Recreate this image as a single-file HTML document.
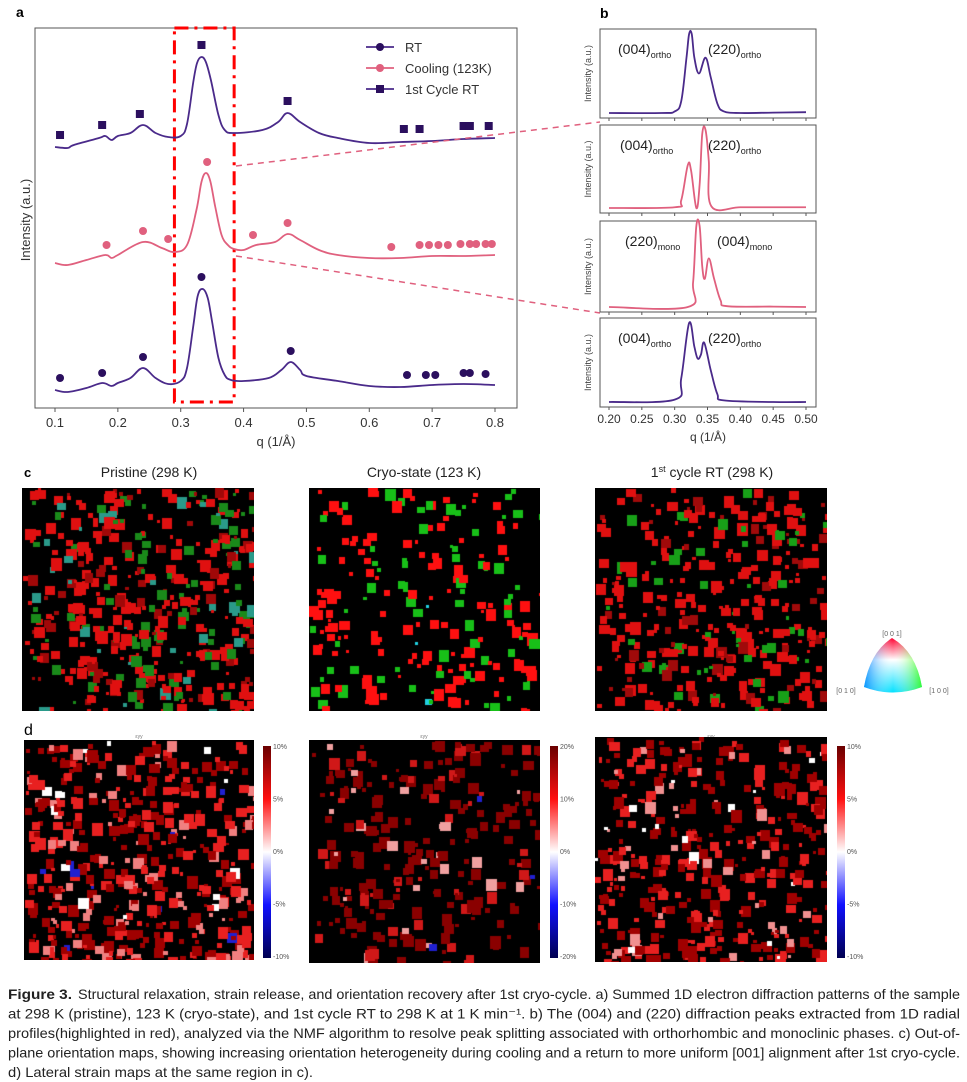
<!DOCTYPE html>
<html><head><meta charset="utf-8">
<style>
body{margin:0;background:#fff;width:967px;height:1082px;overflow:hidden;position:relative;font-family:"Liberation Sans",sans-serif}
.abs{position:absolute}
canvas{position:absolute;display:block}
</style></head>
<body>
<svg id="main" class="abs" style="left:0;top:0" width="967" height="1082"></svg>
<canvas id="c1" style="left:22px;top:488px" width="232" height="223"></canvas>
<canvas id="c2" style="left:309px;top:488px" width="231" height="223"></canvas>
<canvas id="c3" style="left:595px;top:488px" width="232" height="223"></canvas>
<canvas id="d1" style="left:24px;top:740px" width="230" height="220"></canvas>
<canvas id="d2" style="left:309px;top:740px" width="231" height="223"></canvas>
<canvas id="d3" style="left:595px;top:737px" width="232" height="225"></canvas>
<script>
// ---------- Panel a data ----------
const qRT=[0.1,0.12,0.15,0.175,0.19,0.2,0.22,0.24,0.26,0.28,0.3,0.31,0.32,0.327,0.335,0.343,0.35,0.36,0.37,0.38,0.4,0.44,0.46,0.475,0.49,0.5,0.55,0.6,0.65,0.7,0.75,0.8];
const iRT=[2,0,4,9,6,9,14,24,14,8,11,24,66,96,103,94,70,34,17,12,11,14,22,30,22,16,11,6,5,7,8,7];
const qCool=[0.1,0.12,0.15,0.18,0.19,0.2,0.24,0.27,0.29,0.31,0.325,0.333,0.34,0.347,0.355,0.365,0.375,0.385,0.4,0.42,0.45,0.47,0.49,0.52,0.55,0.6,0.65,0.7,0.75,0.8];
const iCool=[2,0,5,10,7,10,23,17,13,20,55,83,92,84,58,30,20,16,15,20,23,31,25,15,10,7,7,9,9,10];
const qCyc=[0.1,0.12,0.13,0.17,0.18,0.19,0.2,0.22,0.24,0.26,0.28,0.3,0.31,0.32,0.326,0.333,0.34,0.348,0.36,0.37,0.385,0.43,0.455,0.47,0.49,0.52,0.55,0.6,0.65,0.7,0.75,0.8];
const iCyc=[1,0,3,10,12,8,12,15,23,15,11,12,24,66,85,91,86,68,33,18,15,18,26,35,26,15,10,5,6,7,9,10];
const mRTq=[0.108,0.175,0.24,0.333,0.475,0.66,0.69,0.705,0.75,0.76,0.785];
const mRTi=[14,19,35,115,41,17,17,17,19,19,18];
const mCoolq=[0.182,0.24,0.28,0.342,0.415,0.47,0.635,0.68,0.695,0.71,0.725,0.745,0.76,0.77,0.785,0.795];
const mCooli=[20,34,26,103,30,42,18,20,20,20,20,21,21,21,21,21];
const mCycq=[0.108,0.175,0.235,0.333,0.47,0.655,0.68,0.75,0.76,0.79];
const mCyci=[13,23,34,103,47,19,19,22,22,22];
const xTicksA=[0.1,0.2,0.3,0.4,0.5,0.6,0.7,0.8];
// ---------- Panel b data ----------
const qB1=[0.2,0.28,0.3,0.31,0.318,0.322,0.326,0.33,0.337,0.347,0.355,0.365,0.375,0.4,0.45,0.5];
const iB1=[0,0,0.02,0.15,0.7,1.0,1.0,0.7,0.5,0.7,0.45,0.12,0.02,0,0.005,0.01];
const qB2=[0.2,0.3,0.31,0.32,0.325,0.333,0.338,0.342,0.347,0.352,0.356,0.4,0.45,0.5];
const iB2=[0,0.01,0.1,0.55,0.48,0,0.3,0.95,1.0,0.6,0.02,0.01,0.01,0.01];
const qB3=[0.2,0.32,0.328,0.333,0.338,0.342,0.346,0.352,0.36,0.37,0.38,0.45,0.5];
const iB3=[0,0,0.3,1.0,1.0,0.5,0.35,0.6,0.35,0.08,0.01,0.005,0];
const qB4=[0.2,0.3,0.31,0.322,0.33,0.335,0.34,0.345,0.355,0.365,0.375,0.45,0.5];
const iB4=[0,0.03,0.3,1.0,0.7,0.55,0.6,0.75,0.4,0.1,0.02,0,0];
const xTicksB=[0.20,0.25,0.30,0.35,0.40,0.45,0.50];
const cbar1=["10%","5%","0%","-5%","-10%"];
const cbar2=["20%","10%","0%","-10%","-20%"];

const NS="http://www.w3.org/2000/svg";
const svg=document.getElementById('main');
function el(tag,attrs,parent){const e=document.createElementNS(NS,tag);for(const k in attrs)e.setAttribute(k,attrs[k]);(parent||svg).appendChild(e);return e;}
function txt(x,y,s,size,attrs,parent){const t=el('text',Object.assign({x:x,y:y,'font-size':size,fill:'#222','font-family':'Liberation Sans, sans-serif'},attrs||{}),parent);t.textContent=s;return t;}
function smooth(pts){let d='M'+pts[0][0]+','+pts[0][1];for(let i=0;i<pts.length-1;i++){const p0=pts[Math.max(i-1,0)],p1=pts[i],p2=pts[i+1],p3=pts[Math.min(i+2,pts.length-1)];const t=0.18;d+=' C'+(p1[0]+(p2[0]-p0[0])*t)+','+(p1[1]+(p2[1]-p0[1])*t)+' '+(p2[0]-(p3[0]-p1[0])*t)+','+(p2[1]-(p3[1]-p1[1])*t)+' '+p2[0]+','+p2[1];}return d;}

// ---------- Panel a ----------
const ax=q=>55+(q-0.1)/0.7*440;
const ga=el('g',{});
txt(16,17,'a',14,{'font-weight':'bold',fill:'#000'});
el('rect',{x:35,y:28,width:482,height:380,fill:'none',stroke:'#555','stroke-width':1},ga);
xTicksA.forEach(v=>{el('line',{x1:ax(v),x2:ax(v),y1:408,y2:412,stroke:'#555'},ga);const t=txt(ax(v),427,v.toFixed(1),13,{'text-anchor':'middle',fill:'#333'},ga);});
const xl=txt(276,446,'q (1/Å)',13,{'text-anchor':'middle',fill:'#333'},ga);
const yl=txt(0,0,'Intensity (a.u.)',13,{'text-anchor':'middle',fill:'#333',transform:'translate(30,220) rotate(-90)'},ga);
const rb=el('rect',{x:ax(0.29),y:28,width:ax(0.385)-ax(0.29),height:374,fill:'none',stroke:'#f00','stroke-width':3,'stroke-dasharray':'14 6 3 6'},ga);

el('line',{x1:236,y1:166,x2:600,y2:122,stroke:'#e0607e','stroke-width':1.5,'stroke-dasharray':'6 5'});
el('line',{x1:236,y1:256,x2:600,y2:313,stroke:'#e0607e','stroke-width':1.5,'stroke-dasharray':'6 5'});
const series=[
 {q:qRT,i:iRT,mq:mRTq,mi:mRTi,base:392,color:'#4a2a8a',mc:'#2b0f5e',m:'circle',name:'rt'},
 {q:qCool,i:iCool,mq:mCoolq,mi:mCooli,base:265,color:'#e0607e',mc:'#e0607e',m:'circle',name:'cooling'},
 {q:qCyc,i:iCyc,mq:mCycq,mi:mCyci,base:148,color:'#4a2a8a',mc:'#2b0f5e',m:'square',name:'1st-cycle-rt'}];
series.forEach(s=>{
 const p=el('path',{d:smooth(s.q.map((q,k)=>[ax(q),s.base-s.i[k]])),fill:'none',stroke:s.color,'stroke-width':1.8},ga);
 
 s.mq.forEach((q,k)=>{let m;if(s.m==='circle')m=el('circle',{cx:ax(q),cy:s.base-s.mi[k],r:4,fill:s.mc},ga);else m=el('rect',{x:ax(q)-4,y:s.base-s.mi[k]-4,width:8,height:8,fill:s.mc},ga);
 });
});
[['RT','#4a2a8a','#2b0f5e','c',47],['Cooling (123K)','#e0607e','#e0607e','c',68],['1st Cycle RT','#4a2a8a','#2b0f5e','s',89]].forEach(L=>{
 const g=el('g',{},ga);
 el('line',{x1:366,x2:394,y1:L[4],y2:L[4],stroke:L[1],'stroke-width':1.8},g);
 if(L[3]==='c')el('circle',{cx:380,cy:L[4],r:4,fill:L[2]},g);else el('rect',{x:376,y:L[4]-4,width:8,height:8,fill:L[2]},g);
 txt(405,L[4]+5,L[0],13,{fill:'#333'},g);
});

// ---------- Panel b ----------
txt(600,18,'b',14,{'font-weight':'bold',fill:'#000'});
const bx=q=>609+(q-0.2)/0.3*197;
const boxes=[[29,118,qB1,iB1,'#4a2a8a',['(004)','ortho','(220)','ortho'],618,'top'],[125,213,qB2,iB2,'#e0607e',['(004)','ortho','(220)','ortho'],620,'cooling'],[221,312,qB3,iB3,'#e0607e',['(220)','mono','(004)','mono'],625,'mono'],[318,407,qB4,iB4,'#4a2a8a',['(004)','ortho','(220)','ortho'],618,'bottom']];
boxes.forEach(B=>{
 const g=el('g',{});
 el('rect',{x:600,y:B[0],width:216,height:B[1]-B[0],fill:'none',stroke:'#555'},g);
 xTicksB.forEach(v=>el('line',{x1:bx(v),x2:bx(v),y1:B[1],y2:B[1]+3,stroke:'#555'},g));
 const base=B[1]-5,h=B[1]-B[0]-10;
 const p=el('path',{d:smooth(B[2].map((q,k)=>[bx(q),base-B[3][k]*h])),fill:'none',stroke:B[4],'stroke-width':1.8},g);
 
 const t1=txt(B[6],B[0]+25,'',14,{fill:'#222'},g);
 const a=el('tspan',{},t1);a.textContent=B[5][0];
 const b=el('tspan',{'font-size':9,dy:4},t1);b.textContent=B[5][1];
 const t2=txt(B[6]==625?717:708,B[0]+25,'',14,{fill:'#222'},g);
 const c=el('tspan',{},t2);c.textContent=B[5][2];
 const d=el('tspan',{'font-size':9,dy:4},t2);d.textContent=B[5][3];
 txt(0,0,'Intensity (a.u.)',9,{'text-anchor':'middle',fill:'#444',transform:'translate(591,'+((B[0]+B[1])/2)+') rotate(-90)'},g);
});
xTicksB.forEach(v=>{const t=txt(bx(v),423,v.toFixed(2),12,{'text-anchor':'middle',fill:'#333'});});
txt(708,441,'q (1/Å)',12,{'text-anchor':'middle',fill:'#333'});

// ---------- Panel c titles ----------
txt(24,477,'c',13,{'font-weight':'bold',fill:'#000'});
txt(149,477,'Pristine (298 K)',14,{'text-anchor':'middle',fill:'#222'});
txt(424,477,'Cryo-state (123 K)',14,{'text-anchor':'middle',fill:'#222'});
const t3=txt(712,477,'1',14,{'text-anchor':'middle',fill:'#222'});const sp=el('tspan',{'font-size':9,dy:-5},t3);sp.textContent='st';const sp2=el('tspan',{dy:5},t3);sp2.textContent=' cycle RT (298 K)';
const defs=el('defs',{});
const lg1=el('linearGradient',{id:'tri1',x1:0,y1:0,x2:0,y2:1},defs);
el('stop',{offset:0,'stop-color':'#ff0030'},lg1);el('stop',{offset:0.4,'stop-color':'#ffffff'},lg1);el('stop',{offset:1,'stop-color':'#00e0ff'},lg1);
const lg2=el('linearGradient',{id:'tri2',x1:0,y1:0,x2:1,y2:0},defs);
el('stop',{offset:0,'stop-color':'#0080ff','stop-opacity':0.8},lg2);el('stop',{offset:0.5,'stop-color':'#ffffff','stop-opacity':0},lg2);el('stop',{offset:1,'stop-color':'#30ff00','stop-opacity':0.8},lg2);
const tri='M892,638 Q870,652 864,687 Q893,698 922,687 Q916,652 892,638Z';
const tg=el('g',{});
el('path',{d:tri,fill:'url(#tri1)'},tg);el('path',{d:tri,fill:'url(#tri2)'},tg);
txt(892,636,'[0 0 1]',7,{'text-anchor':'middle',fill:'#666'},tg);
txt(846,693,'[0 1 0]',7,{'text-anchor':'middle',fill:'#666'},tg);
txt(939,693,'[1 0 0]',7,{'text-anchor':'middle',fill:'#666'},tg);

// ---------- Panel d ----------
txt(24,735,'d',16,{fill:'#000'});
const lgc=el('linearGradient',{id:'cb',x1:0,y1:0,x2:0,y2:1},defs);
[['0','#6a0000'],['0.25','#ff1010'],['0.5','#ffffff'],['0.75','#1010ff'],['1','#000050']].forEach(s=>el('stop',{offset:s[0],'stop-color':s[1]},lgc));
[[263,cbar1],[550,cbar2],[837,cbar1]].forEach((C,n)=>{
 const g=el('g',{});
 el('rect',{x:C[0],y:746,width:8,height:212,fill:'url(#cb)'},g);
 C[1].forEach((s,k)=>txt(C[0]+10,749+k*52.5,s,7,{fill:'#555'},g));
});
[139,424,711].forEach(x=>txt(x,738,'εyy',5,{'text-anchor':'middle',fill:'#777'}));

// ---------- Caption ----------
const cap=["Structural relaxation, strain release, and orientation recovery after 1st cryo-cycle. a) Summed 1D electron diffraction patterns of the sample",
"at 298 K (pristine), 123 K (cryo-state), and 1st cycle RT to 298 K at 1 K min⁻¹. b) The (004) and (220) diffraction peaks extracted from 1D radial",
"profiles(highlighted in red), analyzed via the NMF algorithm to resolve peak splitting associated with orthorhombic and monoclinic phases. c) Out-of-",
"plane orientation maps, showing increasing orientation heterogeneity during cooling and a return to more uniform [001] alignment after 1st cryo-cycle."];
const cg=el('g',{});
txt(8,999,'Figure 3.',14,{fill:'#222','font-weight':'bold',textLength:64,lengthAdjust:'spacingAndGlyphs'},cg);
txt(78,999,cap[0],14,{fill:'#222',textLength:882,lengthAdjust:'spacingAndGlyphs'},cg);
cap.slice(1).forEach((s,k)=>{txt(8,999+(k+1)*19.5,s,14,{fill:'#222',textLength:952,lengthAdjust:'spacingAndGlyphs'},cg);});
txt(8,999+4*19.5,'d) Lateral strain maps at the same region in c).',14,{fill:'#222',textLength:305,lengthAdjust:'spacingAndGlyphs'},cg);

// ---------- maps (texture imagery) ----------
function rng(seed){return function(){seed=(seed*1664525+1013904223)>>>0;return seed/4294967296;}}
function drawMap(id,seed,density,palette){
 const cv=document.getElementById(id),ctx=cv.getContext('2d'),R=rng(seed);
 ctx.fillStyle='#000';ctx.fillRect(0,0,cv.width,cv.height);
 const n=Math.floor(cv.width*cv.height/80*density);
 for(let k=0;k<n;k++){const x=R()*cv.width,y=R()*cv.height,s=3+R()*8;
  const pr=R();let c=palette[palette.length-1][1];for(const p of palette){if(pr<p[0]){c=p[1];break;}}
  ctx.fillStyle=c;ctx.fillRect(Math.round(x),Math.round(y),Math.round(s),Math.round(s*(0.8+R()*0.4)));}
}
drawMap('c1',11,0.7,[[0.55,'#e01010'],[0.72,'#a00808'],[0.95,'#1a8a1a'],[1,'#2a9a8a']]);
drawMap('c2',23,0.35,[[0.7,'#ff1010'],[0.98,'#18c018'],[1,'#20d0e0']]);
drawMap('c3',37,0.55,[[0.65,'#e01010'],[0.82,'#a00a0a'],[1,'#18a018']]);
drawMap('d1',41,0.75,[[0.45,'#a00000'],[0.8,'#e82020'],[0.96,'#f08080'],[0.985,'#ffffff'],[1,'#2020d0']]);
drawMap('d2',53,0.42,[[0.72,'#8a0000'],[0.9,'#d01818'],[0.98,'#f0a0a0'],[1,'#2020d0']]);
drawMap('d3',67,0.62,[[0.5,'#a00000'],[0.86,'#e82020'],[0.97,'#f09090'],[1,'#ffffff']]);
</script>
</body></html>
